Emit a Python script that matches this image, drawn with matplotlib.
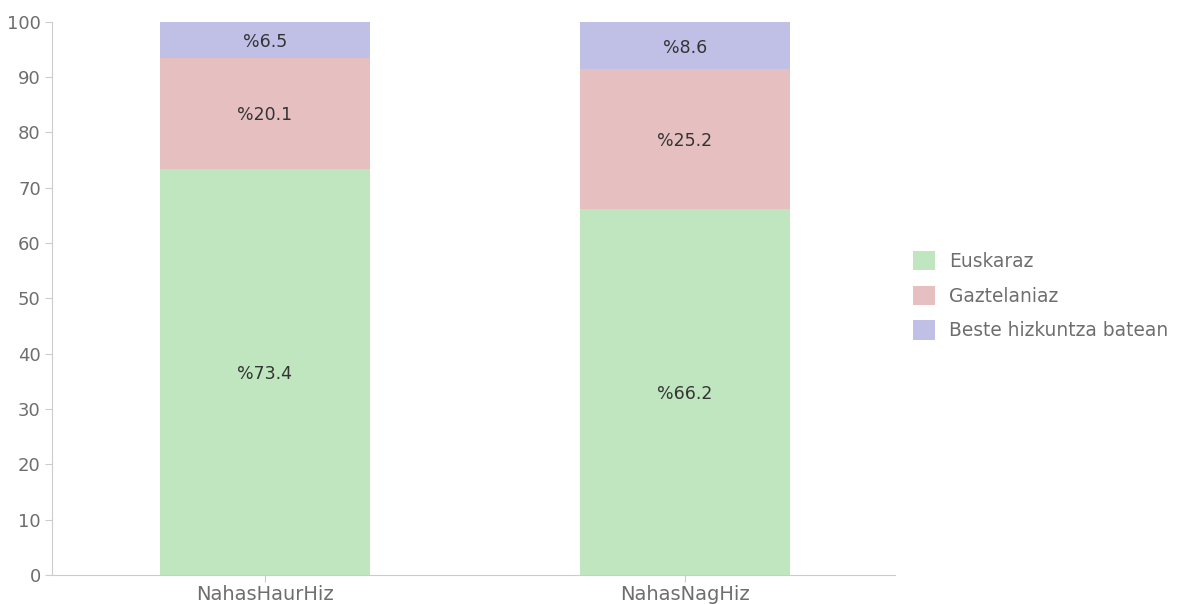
import matplotlib
matplotlib.use("Agg")
import matplotlib.pyplot as plt
import numpy as np

plt.rcParams['font.family'] = ['DejaVu Sans']

categories = ["NahasHaurHiz", "NahasNagHiz"]
series_names = ["Euskaraz", "Gaztelaniaz", "Beste hizkuntza batean"]
euskaraz = [73.4, 66.2]
gaztelaniaz = [20.1, 25.2]
beste = [6.5, 8.6]
colors = ["#bfe6bf", "#e6c0c0", "#c0c0e6"]
yticks = [0, 10, 20, 30, 40, 50, 60, 70, 80, 90, 100]

fig = plt.figure(figsize=(11.79, 6.04), dpi=100)
ax = fig.add_axes([0.044, 0.048, 0.715, 0.916])

x = np.arange(len(categories))
bottom = np.zeros(len(categories))
handles = []
for vals, name, c in zip([euskaraz, gaztelaniaz, beste], series_names, colors):
    vals = np.array(vals)
    b = ax.bar(x, vals, bottom=bottom, width=0.5, color=c, label=name, linewidth=0)
    handles.append(b)
    for xi, v, bo in zip(x, vals, bottom):
        ax.text(xi, bo + v / 2, f"%{v:.1f}", ha="center", va="center_baseline",
                fontsize=12.5, color="#333333")
    bottom += vals

ax.set_xlim(-0.507, 1.5)
ax.set_ylim(0, 100)
ax.set_yticks(yticks)
ax.set_xticks(x)
ax.set_xticklabels(categories)
for s in ["top", "right"]:
    ax.spines[s].set_visible(False)
for s in ["left", "bottom"]:
    ax.spines[s].set_color("#cccccc")
ax.tick_params(axis="both", colors="#cccccc", labelcolor="#6e6e6e", length=5)
ax.tick_params(axis="y", pad=3, labelsize=13)
ax.tick_params(axis="x", pad=2, labelsize=14)

leg = fig.legend(handles=handles, labels=series_names, loc="upper left",
                 bbox_to_anchor=(0.7744, 0.5844), frameon=False, fontsize=13.4,
                 handlelength=1.2, handleheight=1.2, handletextpad=0.75,
                 labelspacing=0.8, borderpad=0, borderaxespad=0)
for t in leg.get_texts():
    t.set_color("#6e6e6e")

fig.savefig("out.png", dpi=100)
